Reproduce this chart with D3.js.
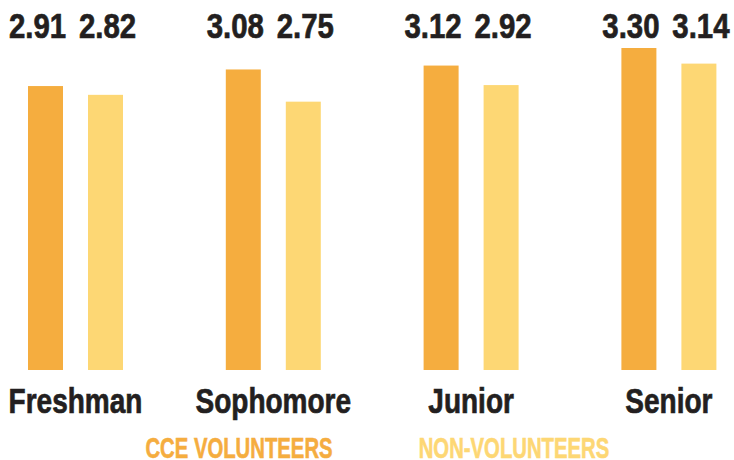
<!DOCTYPE html>
<html>
<head>
<meta charset="utf-8">
<script src="https://cdn.jsdelivr.net/npm/d3@7"></script>
<style>
  html, body { margin: 0; padding: 0; background: #fff; }
  svg { display: block; }
  text { font-family: "Liberation Sans", Arial, sans-serif; font-weight: bold; }
</style>
</head>
<body>
<svg id="chart" width="734" height="460"></svg>
<script>
const categories = ["Freshman", "Sophomore", "Junior", "Senior"];
const seriesNames = ["CCE VOLUNTEERS", "NON-VOLUNTEERS"];
const cceValues = [2.91, 3.08, 3.12, 3.30];
const nonValues = [2.82, 2.75, 2.92, 3.14];
const valueLabels = [["2.91", "2.82"], ["3.08", "2.75"], ["3.12", "2.92"], ["3.30", "3.14"]];
const colors = ["#F5AD3F", "#FDD774"];
const textColor = "#231F20";

const svg = d3.select("#chart");

// condense a text selection horizontally (mimics a condensed typeface)
function condense(sel, factor) {
  sel.each(function () {
    const len = this.getComputedTextLength();
    d3.select(this).attr("textLength", len * factor).attr("lengthAdjust", "spacingAndGlyphs");
  });
}

const x = d3.scaleBand().domain(categories).range([-23.4, 767.8]);
const xs = d3.scaleBand().domain(seriesNames).range([51.4, 146.4]).paddingInner(25 / 60).paddingOuter(0);
const y = d3.scaleLinear().domain([0, 3.30]).range([370, 48]);

const data = categories.map((c, i) => ({
  cat: c,
  vals: [cceValues[i], nonValues[i]],
  labels: valueLabels[i]
}));

const groups = svg.selectAll("g.grp").data(data).join("g")
  .attr("class", "grp")
  .attr("transform", d => `translate(${x(d.cat)},0)`);

groups.selectAll("rect").data(d => d.vals.map((v, j) => ({ v, s: seriesNames[j], j }))).join("rect")
  .attr("x", d => xs(d.s))
  .attr("width", xs.bandwidth())
  .attr("y", d => y(d.v))
  .attr("height", d => y(0) - y(d.v))
  .attr("fill", d => colors[d.j]);

const labelOffsets = [-8, 2];
const vals = groups.selectAll("text.val").data(d => d.labels.map((t, j) => ({ t, s: seriesNames[j], j }))).join("text")
  .attr("class", "val")
  .attr("x", d => xs(d.s) + xs.bandwidth() / 2 + labelOffsets[d.j])
  .attr("y", 38)
  .attr("text-anchor", "middle")
  .attr("font-size", 35)
  .attr("fill", textColor)
  .attr("stroke", textColor)
  .attr("stroke-width", 0.7)
  .text(d => d.t);
condense(vals, 0.84);

// category axis labels
const axis = d3.axisBottom(x).tickSize(0).tickPadding(0);
const axG = svg.append("g").attr("transform", "translate(0,370)").call(axis);
axG.select(".domain").remove();
const ticks = axG.selectAll(".tick text")
  .attr("y", 43)
  .attr("dy", 0)
  .attr("font-size", 35)
  .attr("fill", textColor)
  .attr("stroke", textColor)
  .attr("stroke-width", 0.7)
  .style("font-family", '"Liberation Sans", Arial, sans-serif')
  .style("font-weight", "bold");
condense(ticks, 0.80);

// legend
const legendCx = [239, 514];
const leg = svg.selectAll("text.leg").data(seriesNames).join("text")
  .attr("class", "leg")
  .attr("x", (d, i) => legendCx[i])
  .attr("y", 458)
  .attr("text-anchor", "middle")
  .attr("font-size", 29)
  .attr("fill", (d, i) => colors[i])
  .attr("stroke", (d, i) => colors[i])
  .attr("stroke-width", 0.6)
  .text(d => d);
condense(leg, 0.70);
</script>
</body>
</html>
